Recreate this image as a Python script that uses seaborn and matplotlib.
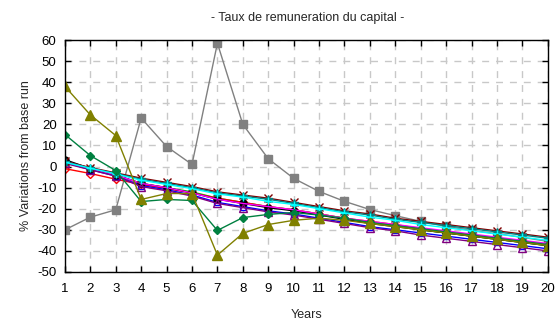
import matplotlib
matplotlib.use("Agg")
import matplotlib.pyplot as plt
import seaborn as sns
import pandas as pd

years = list(range(1, 21))

gray_sq = [-30, -24, -20.5, 23, 9.5, 1, 58.5, 20, 3.7, -5.6, -11.8, -16.5, -20.4, -23.3,
           -26, -28.4, -30.3, -31.8, -33.6, -35.5]
olive_tri = [38, 24.5, 14.7, -15.6, -12.8, -12.8, -42, -31.7, -27.5, -25.5, -24.5, -25.5,
             -27, -28.5, -30, -31.5, -33, -34.5, -36, -37.5]
green_dia = [15.2, 5.2, -1.9, -16.6, -15.6, -16.1, -30.3, -24.2, -22.7, -21.8, -23, -24.5,
             -26.5, -28, -29.5, -31, -32.5, -34, -35.5, -37]
black_circ = [3.3, -1.0, -4.0, -8.0, -10.0, -12.5, -15.5, -17.5, -19.5, -21.0, -23.0, -25.0,
              -27.0, -28.5, -30.0, -31.5, -33.0, -34.5, -36.0, -37.5]
red_open = [-1.0, -3.3, -6.0, -8.5, -10.5, -12.5, -15.0, -17.0, -19.0, -20.5, -22.5, -24.5,
            -26.0, -27.5, -29.5, -31.0, -32.5, -34.0, -35.5, -37.0]
blue_sq = [2.0, -1.5, -4.5, -9.0, -11.0, -13.5, -17.0, -19.0, -21.0, -22.5, -24.5, -26.5,
           -28.5, -30.0, -31.5, -33.0, -34.5, -36.0, -37.5, -39.0]
magenta = [2.5, -1.0, -4.0, -8.0, -10.0, -12.5, -15.5, -17.5, -19.0, -20.5, -22.5, -24.5,
           -26.0, -27.5, -29.0, -30.5, -32.0, -33.5, -35.0, -36.5]
cyan_plus = [2.0, -0.8, -3.5, -6.5, -8.5, -10.5, -13.0, -14.5, -16.5, -18.0, -20.0, -22.0,
             -24.0, -25.5, -27.5, -29.0, -30.5, -32.0, -33.5, -35.0]
purple_tri = [1.5, -1.5, -4.5, -9.5, -11.5, -14.0, -17.5, -19.5, -21.5, -23.0, -25.0, -27.0,
              -29.0, -30.5, -32.5, -34.0, -35.5, -37.0, -38.5, -40.0]
darkred_x = [2.5, -0.5, -3.0, -5.5, -7.5, -9.5, -12.0, -13.5, -15.0, -17.0, -19.0, -21.0,
             -22.5, -24.5, -26.0, -27.5, -29.0, -30.5, -32.0, -33.5]
teal_star = [2.3, -0.7, -3.3, -6.0, -8.0, -10.0, -12.5, -14.0, -15.5, -17.5, -19.5, -21.5,
             -23.0, -25.0, -26.5, -28.0, -29.5, -31.0, -32.5, -34.0]
bright_green = [2.0, -1.2, -4.0, -8.0, -10.0, -12.0, -15.0, -17.0, -19.0, -20.5, -22.5, -24.5,
                -26.5, -28.0, -30.0, -31.5, -33.0, -34.5, -36.0, -37.5]

# name, values, color, marker, filled, marker size
series = [
    ("gray", gray_sq, "#808080", "s", True, 5.5),
    ("bright_green", bright_green, "#00d000", None, True, 0),
    ("red", red_open, "#ff0000", "D", False, 4),
    ("blue", blue_sq, "#0000ff", "s", False, 5),
    ("black", black_circ, "#000000", "o", True, 5),
    ("magenta", magenta, "#ff00ff", None, True, 0),
    ("purple", purple_tri, "#800080", "^", False, 5.5),
    ("darkred", darkred_x, "#800000", "x", True, 6),
    ("teal", teal_star, "#008080", "*", True, 6),
    ("cyan", cyan_plus, "#00ffff", "+", True, 6),
    ("green", green_dia, "#008040", "D", True, 4.5),
    ("olive", olive_tri, "#808000", "^", True, 6.5),
]

sns.set_style("ticks")
plt.rcParams["font.family"] = ["Liberation Sans", "DejaVu Sans"]
plt.rcParams["axes.unicode_minus"] = False

fig = plt.figure(figsize=(5.55, 3.23), dpi=100)
ax = fig.add_axes([0.117, 0.158, 0.870, 0.718])

for name, vals, color, marker, filled, ms in series:
    df = pd.DataFrame({"year": years, "value": vals})
    kw = dict(marker=marker, markersize=ms, markeredgewidth=1.0)
    if marker is not None:
        if filled:
            kw.update(markerfacecolor=color, markeredgecolor=color)
        else:
            kw.update(markerfacecolor="none", markeredgecolor=color)
    sns.lineplot(data=df, x="year", y="value", color=color, linewidth=1.0,
                 ax=ax, legend=False, **kw)

ax.set_xlim(1, 20)
ax.set_ylim(-50, 60)
ax.set_xticks(years)
ax.set_yticks(range(-50, 61, 10))
ax.grid(True, color="#c8c8c8", linestyle=(0, (5, 5)), linewidth=1.0)
ax.set_axisbelow(True)
ax.tick_params(direction="in", length=4, width=1, top=True, right=True,
               labelsize=9.5, colors="black", pad=6)
ax.tick_params(axis="x", pad=8)
for sp in ax.spines.values():
    sp.set_visible(True)
    sp.set_linewidth(1.0)
    sp.set_color("black")

ax.set_xlabel("Years", fontsize=9, labelpad=10)
ax.set_ylabel("% Variations from base run", fontsize=9, labelpad=4)
fig.text(0.555, 0.945, "- Taux de remuneration du capital -", ha="center",
         va="center", fontsize=9)

fig.savefig("out.png", dpi=100)
